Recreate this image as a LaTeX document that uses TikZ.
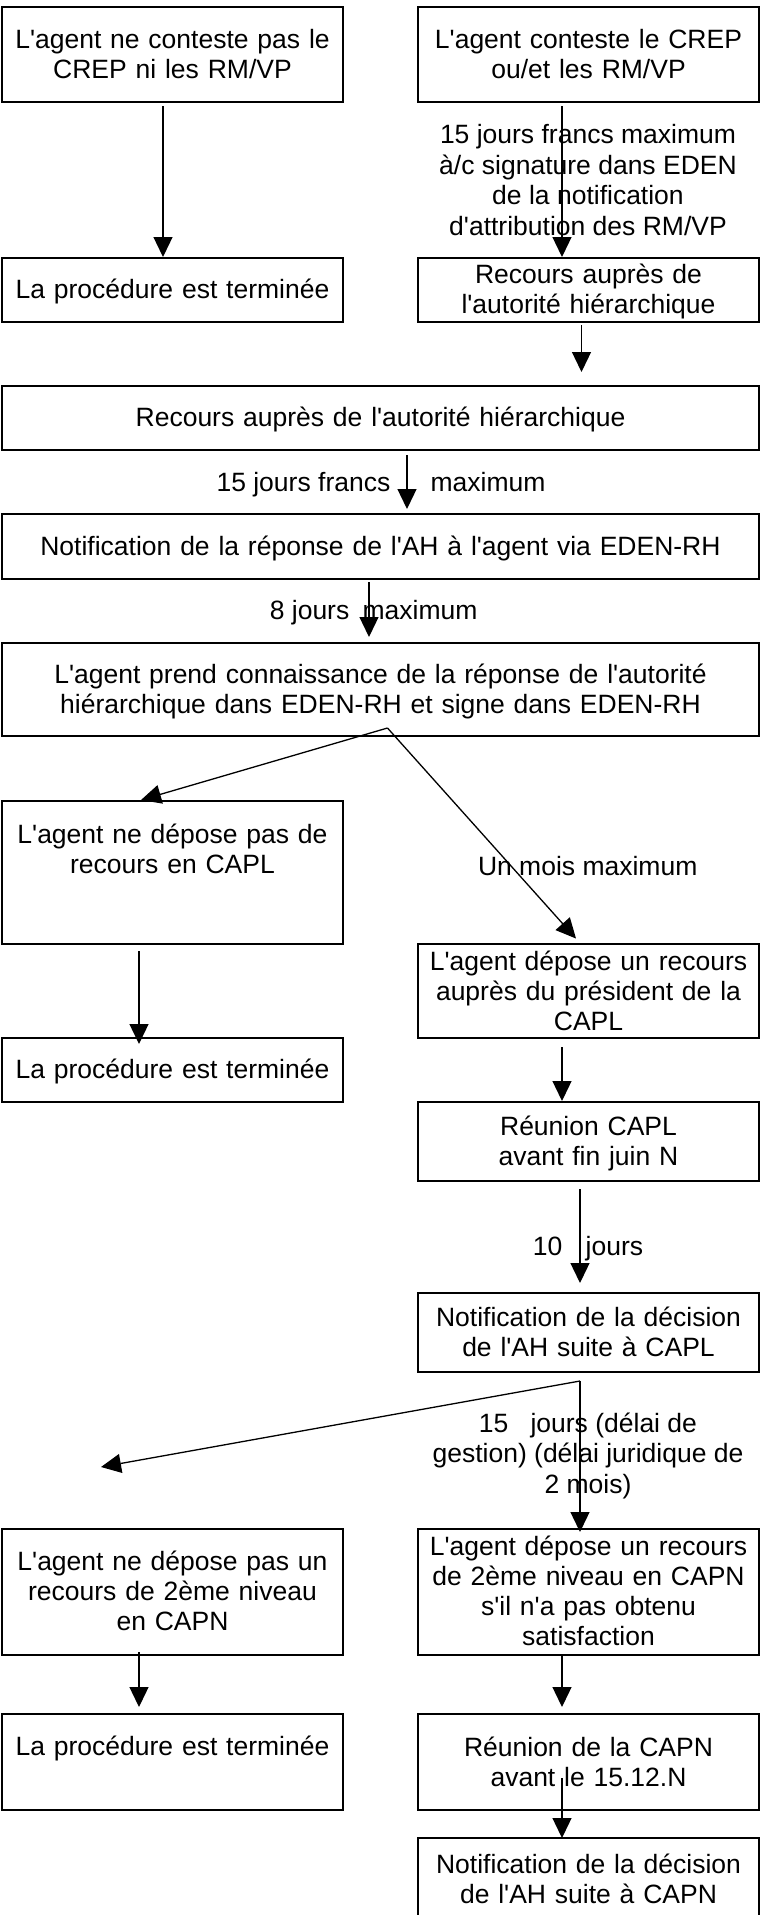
\documentclass[tikz,border=0pt]{standalone}
\usepackage{fontspec}
\setmainfont{Liberation Sans}[Ligatures=TeXOff]
\usetikzlibrary{arrows.meta}
\tikzset{
    stagebox/.style={draw=black, line width=2pt, anchor=north, align=center,
             inner xsep=3pt, inner ysep=0pt, font=\fontsize{26.5}{30}\selectfont},
    narrow/.style={stagebox, text width=335pt},
    wide/.style={stagebox, text width=751pt},
    flowline/.style={draw=black, line width=1.3pt, -{Triangle[width=19pt,length=20pt]}},
    delaytext/.style={inner sep=0pt, align=center, font=\fontsize{26.5}{30.5}\selectfont}
  }

\begin{document}
\begin{tikzpicture}[x=1pt, y=-1pt]
 \useasboundingbox (0,0) rectangle (760,1915);
 %First row
     \node[narrow, text height=41pt, text depth=54pt] (agNoC) at (172.5,6) {L'agent ne conteste pas le\\CREP ni les RM/VP};
     \node[narrow, text height=41pt, text depth=54pt] (agC) at (588.5,6) {L'agent conteste le CREP\\ou/et les RM/VP};
     \node[narrow, text height=40pt, text depth=24pt] (finA) at (172.5,257) {La procédure est terminée};
     \node[narrow, text height=25pt, text depth=39pt] (recB) at (588.5,257) {Recours auprès de\\l'autorité hiérarchique};
 %Wide steps
     \node[wide, text height=40pt, text depth=24pt] (recAH) at (380.5,385) {Recours auprès de l'autorité hiérarchique};
     \node[wide, text height=41pt, text depth=24pt] (notifAH) at (380.5,513) {Notification de la réponse de l'AH à l'agent via EDEN-RH};
     \node[wide, text height=40pt, text depth=53pt] (prend) at (380.5,642) {L'agent prend connaissance de la réponse de l'autorité\\hiérarchique dans EDEN-RH et signe dans EDEN-RH};
 %CAPL
     \node[narrow, text height=42pt, text depth=101pt] (noCAPL) at (172.5,800) {L'agent ne dépose pas de\\recours en CAPL};
     \node[narrow, text height=26pt, text depth=68pt] (demCAPL) at (588.5,943) {L'agent dépose un recours\\auprès du président de la\\CAPL};
     \node[narrow, text height=40pt, text depth=24pt] (finB) at (172.5,1037) {La procédure est terminée};
     \node[narrow, text height=33pt, text depth=46pt] (reuCAPL) at (588.5,1101) {Réunion CAPL\\avant fin juin N};
     \node[narrow, text height=33pt, text depth=46pt] (decCAPL) at (588.5,1292) {Notification de la décision\\de l'AH suite à CAPL};
 %CAPN
     \node[narrow, text height=41pt, text depth=85pt] (noCAPN) at (172.5,1528) {L'agent ne dépose pas un\\recours de 2ème niveau\\en CAPN};
     \node[narrow, text height=26pt, text depth=100pt] (demCAPN) at (588.5,1528) {L'agent dépose un recours\\de 2ème niveau en CAPN\\s'il n'a pas obtenu\\satisfaction};
     \node[narrow, text height=41pt, text depth=55pt] (finC) at (172.5,1713) {La procédure est terminée};
     \node[narrow, text height=42pt, text depth=54pt] (reuCAPN) at (588.5,1713) {Réunion de la CAPN\\avant le 15.12.N};
     \node[narrow, text height=35pt, text depth=60pt] (decCAPN) at (588.5,1837) {Notification de la décision\\de l'AH suite à CAPN};
 %forks
     \coordinate (fork1) at ([xshift=7pt,yshift=9pt]prend.south);
     \coordinate (fork2) at ([xshift=-8.5pt,yshift=-8pt]decCAPL.south);
     \coordinate (loose) at (101,1467);
 %arrows, top part
     \draw[flowline, shorten <=3pt] ([xshift=-9.5pt]agNoC.south) -- ([xshift=-9.5pt]finA.north);
     \draw[flowline, shorten <=3pt] ([xshift=-26.5pt]agC.south) -- ([xshift=-26.5pt]recB.north)
          node[delaytext, midway, xshift=26pt] (lblRM) {15 jours francs maximum\\à/c signature dans EDEN\\de la notification\\d'attribution des RM/VP};
     \draw[flowline, shorten <=2pt, shorten >=13pt] ([xshift=-7pt]recB.south) -- ([xshift=-7pt]recB.south |- recAH.north);
     \draw[flowline, shorten <=4pt, shorten >=4pt] ([xshift=26.5pt]recAH.south) -- ([xshift=26.5pt]notifAH.north)
          node[delaytext, midway, anchor=base east, xshift=-16pt, yshift=-9pt] (lbl15a) {15 jours francs}
          node[delaytext, midway, anchor=base west, xshift=23pt, yshift=-9pt] (lbl15b) {maximum};
     \draw[flowline, shorten <=2pt, shorten >=5pt] ([xshift=-11.5pt]notifAH.south) -- ([xshift=-11.5pt]prend.north)
          node[delaytext, midway, anchor=base east, xshift=-19pt, yshift=-8pt] (lbl8a) {8 jours}
          node[delaytext, midway, anchor=base west, xshift=-7pt, yshift=-8pt] (lbl8b) {maximum};
 %CAPL branch
     \draw[flowline] (fork1) -- ([xshift=-31.5pt]noCAPL.north);
     \draw[flowline, shorten >=6pt] (fork1) -- ([xshift=-8.5pt]demCAPL.north)
          node[delaytext, pos=0.64, xshift=77pt] (lblmois) {Un mois maximum};
     \draw[flowline, shorten <=6pt, shorten >=-7pt] ([xshift=-33.5pt]noCAPL.south) -- ([xshift=-33.5pt]finB.north);
     \draw[flowline, shorten <=8pt] ([xshift=-26.5pt]demCAPL.south) -- ([xshift=-26.5pt]reuCAPL.north);
     \draw[flowline, shorten <=7pt, shorten >=9pt] ([xshift=-8.5pt]reuCAPL.south) -- ([xshift=-8.5pt]decCAPL.north)
          node[delaytext, midway, anchor=base east, yshift=-18pt, xshift=-17pt] (lbl10a) {10}
          node[delaytext, midway, anchor=base west, yshift=-18pt, xshift=5pt] (lbl10b) {jours};
 %CAPN branch
     \draw[flowline] (fork2) -- (loose);
     \draw[flowline, shorten >=-4pt] (fork2) -- ([xshift=-8.5pt]demCAPN.north)
          node[delaytext, midway, xshift=8pt, yshift=-1pt] (lblgest) {15~~~jours (délai de\\gestion) (délai juridique de\\2 mois)};
     \draw[flowline, shorten <=-4pt, shorten >=6pt] ([xshift=-33.5pt]noCAPN.south) -- ([xshift=-33.5pt]finC.north);
     \draw[flowline, shorten <=-2pt, shorten >=6pt] ([xshift=-26.5pt]demCAPN.south) -- ([xshift=-26.5pt]reuCAPN.north);
     \draw[flowline, shorten <=-33pt, shorten >=-1pt] ([xshift=-26.5pt]reuCAPN.south) -- ([xshift=-26.5pt]decCAPN.north);
\end{tikzpicture}
\end{document}
